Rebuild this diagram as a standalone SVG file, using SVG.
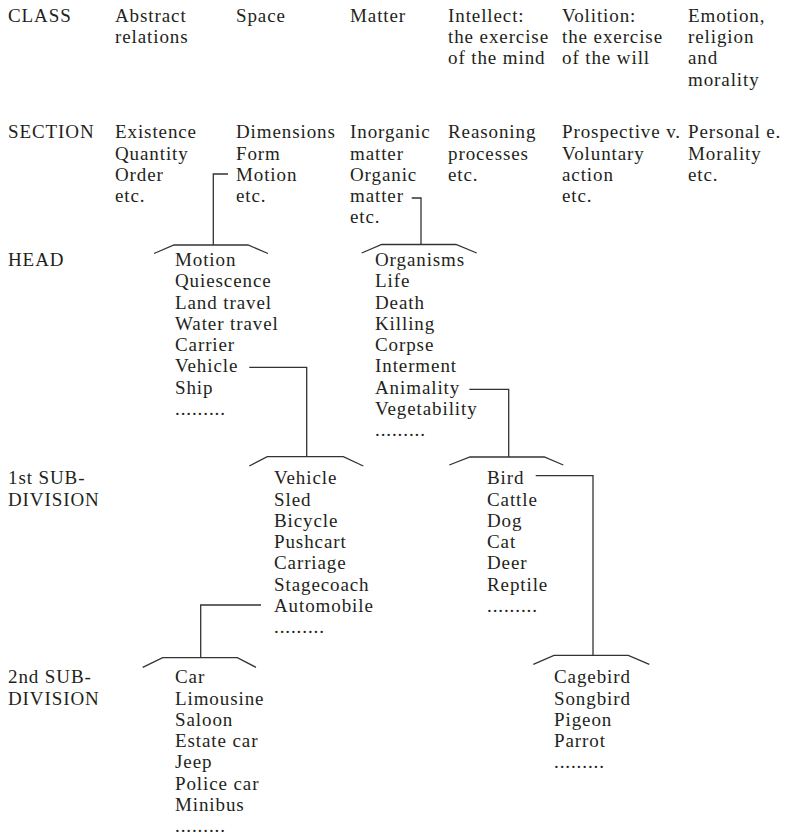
<svg xmlns="http://www.w3.org/2000/svg" width="786" height="838" viewBox="0 0 786 838">
<style>
text{font-family:"Liberation Serif","Times New Roman",serif;font-size:19px;letter-spacing:0.9px;fill:#231f20}
.c{fill:none;stroke:#333;stroke-width:1.3}
</style>
<rect width="786" height="838" fill="#fff"/>
<g id="row-labels">
<text x="8" y="21.7">CLASS</text>
<text x="8" y="138.3">SECTION</text>
<text x="8" y="266">HEAD</text>
<text x="8" y="484.3">1st SUB-</text>
<text x="8" y="505.5">DIVISION</text>
<text x="8" y="683.3">2nd SUB-</text>
<text x="8" y="704.5">DIVISION</text>
</g>
<g id="class-abstract"><text x="115" y="21.7">Abstract</text><text x="115" y="43">relations</text></g>
<g id="class-space"><text x="236" y="21.7">Space</text></g>
<g id="class-matter"><text x="350" y="21.7">Matter</text></g>
<g id="class-intellect"><text x="448" y="21.7">Intellect:</text><text x="448" y="43">the exercise</text><text x="448" y="64.2">of the mind</text></g>
<g id="class-volition"><text x="562" y="21.7">Volition:</text><text x="562" y="43">the exercise</text><text x="562" y="64.2">of the will</text></g>
<g id="class-emotion"><text x="688" y="21.7">Emotion,</text><text x="688" y="43">religion</text><text x="688" y="64.2">and</text><text x="688" y="85.5">morality</text></g>

<g id="section-abstract"><text x="115" y="138.3">Existence</text><text x="115" y="159.5">Quantity</text><text x="115" y="180.8">Order</text><text x="115" y="202">etc.</text></g>
<g id="section-space"><text x="236" y="138.3">Dimensions</text><text x="236" y="159.5">Form</text><text x="236" y="180.8">Motion</text><text x="236" y="202">etc.</text></g>
<g id="section-matter"><text x="350" y="138.3">Inorganic</text><text x="350" y="159.5">matter</text><text x="350" y="180.8">Organic</text><text x="350" y="202">matter</text><text x="350" y="223.3">etc.</text></g>
<g id="section-intellect"><text x="448" y="138.3">Reasoning</text><text x="448" y="159.5">processes</text><text x="448" y="180.8">etc.</text></g>
<g id="section-volition"><text x="562" y="138.3">Prospective v.</text><text x="562" y="159.5">Voluntary</text><text x="562" y="180.8">action</text><text x="562" y="202">etc.</text></g>
<g id="section-emotion"><text x="688" y="138.3">Personal e.</text><text x="688" y="159.5">Morality</text><text x="688" y="180.8">etc.</text></g>

<g id="head-motion">
<text x="175" y="266">Motion</text><text x="175" y="287.3">Quiescence</text><text x="175" y="308.5">Land travel</text><text x="175" y="329.8">Water travel</text><text x="175" y="351">Carrier</text><text x="175" y="372.3">Vehicle</text><text x="175" y="393.5">Ship</text><text x="175" y="414.8">.........</text>
</g>
<g id="head-organisms">
<text x="375" y="266">Organisms</text><text x="375" y="287.3">Life</text><text x="375" y="308.5">Death</text><text x="375" y="329.8">Killing</text><text x="375" y="351">Corpse</text><text x="375" y="372.3">Interment</text><text x="375" y="393.5">Animality</text><text x="375" y="414.8">Vegetability</text><text x="375" y="436">.........</text>
</g>
<g id="sub1-vehicle">
<text x="274" y="484.3">Vehicle</text><text x="274" y="505.5">Sled</text><text x="274" y="526.8">Bicycle</text><text x="274" y="548">Pushcart</text><text x="274" y="569.3">Carriage</text><text x="274" y="590.5">Stagecoach</text><text x="274" y="611.8">Automobile</text><text x="274" y="633">.........</text>
</g>
<g id="sub1-bird">
<text x="487" y="484.3">Bird</text><text x="487" y="505.5">Cattle</text><text x="487" y="526.8">Dog</text><text x="487" y="548">Cat</text><text x="487" y="569.3">Deer</text><text x="487" y="590.5">Reptile</text><text x="487" y="611.8">.........</text>
</g>
<g id="sub2-car">
<text x="175" y="683.3">Car</text><text x="175" y="704.5">Limousine</text><text x="175" y="725.8">Saloon</text><text x="175" y="747">Estate car</text><text x="175" y="768.3">Jeep</text><text x="175" y="789.5">Police car</text><text x="175" y="810.8">Minibus</text><text x="175" y="832">.........</text>
</g>
<g id="sub2-cagebird">
<text x="554" y="683.3">Cagebird</text><text x="554" y="704.5">Songbird</text><text x="554" y="725.8">Pigeon</text><text x="554" y="747">Parrot</text><text x="554" y="768.3">.........</text>
</g>

<g id="connectors" class="c">
<polyline class="c" points="228,174 213.3,174 213.3,245"/>
<polyline class="c" points="154,253.5 174,245 248,245 268,253.5"/>
<polyline class="c" points="411.7,198 421,198 421,244.5"/>
<polyline class="c" points="361.7,253 381.7,244.5 456,244.5 476.7,253"/>
<polyline class="c" points="249.3,367.3 306.7,367.3 306.7,456.7"/>
<polyline class="c" points="249.3,466 267.3,456.7 343.3,456.7 363.3,466"/>
<polyline class="c" points="469.3,389.3 508.7,389.3 508.7,457"/>
<polyline class="c" points="449.3,465 470,457 544.3,457 563.3,465"/>
<polyline class="c" points="261,605 200.7,605 200.7,657.7"/>
<polyline class="c" points="142.7,667.3 162.7,657.7 237.3,657.7 256,667.3"/>
<polyline class="c" points="535.7,475.7 593,475.7 593,655.3"/>
<polyline class="c" points="533.3,664.3 554,655.3 628.3,655.3 649.3,664.3"/>
</g>
</svg>
